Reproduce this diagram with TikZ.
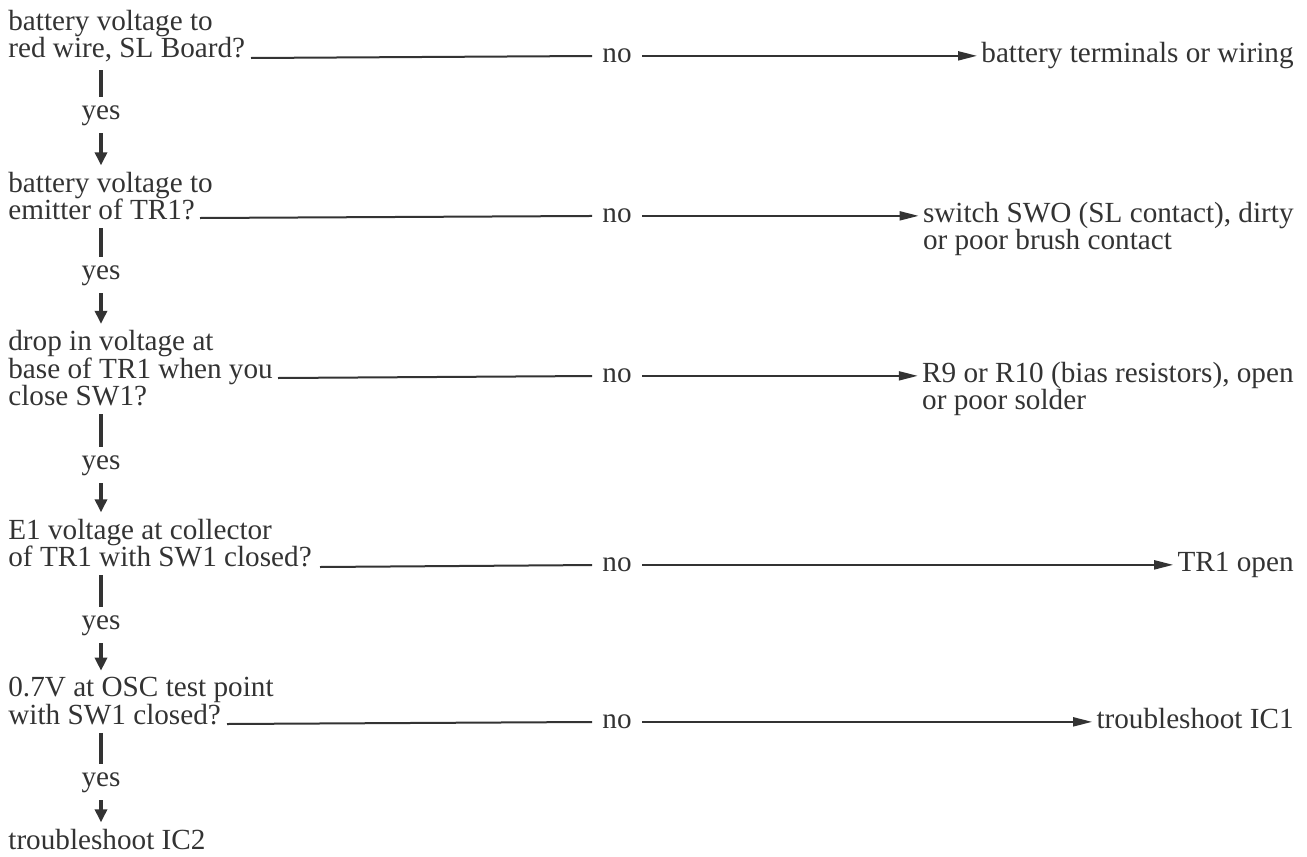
\documentclass[tikz,border=0pt]{standalone}
\usepackage{fontspec}
\setmainfont{Liberation Serif}
\usetikzlibrary{arrows.meta}
\definecolor{ink}{gray}{0.2}
\tikzset{txt/.style={inner sep=0pt,text=ink,font=\fontsize{14.6}{13.75}\selectfont}}
\tikzset{qtext/.style={txt,align=left}}
\tikzset{nolab/.style={txt,anchor=mid,inner xsep=5pt}}
\tikzset{yeslab/.style={txt,anchor=mid}}
\tikzset{ruleline/.style={draw=ink,line width=1pt}}
\tikzset{noarr/.style={draw=ink,line width=1pt,-{Triangle[length=9.5pt,width=4.5pt]},shorten >=2pt}}
\tikzset{yesbar/.style={draw=ink,line width=1.6pt,shorten <=4pt,shorten >=4pt}}
\tikzset{yesarr/.style={draw=ink,line width=1.6pt,-{Triangle[length=6.5pt,width=6pt]},shorten <=3.5pt,shorten >=3pt}}

\begin{document}
\begin{tikzpicture}[x=0.5pt,y=-0.5pt]
  \useasboundingbox (0,0) rectangle (1307,857);
  % questions (base = last line)
  \node[qtext,anchor=base west] (q1) at (8,57.5) {battery voltage to\\red wire, SL Board?};
  \node[qtext,anchor=base west] (q2) at (8,219.5) {battery voltage to\\emitter of TR1?};
  \node[qtext,anchor=base west] (q3) at (8,405.5) {drop in voltage at\\base of TR1 when you\\close SW1?};
  \node[qtext,anchor=base west] (q4) at (8,566.5) {E1 voltage at collector\\of TR1 with SW1 closed?};
  \node[qtext,anchor=base west] (q5) at (8,724) {0.7V at OSC test point\\with SW1 closed?};
  \node[qtext,anchor=base west] (q6) at (8,849) {troubleshoot IC2};
  % yes labels
  \node[yeslab] (y1) at (101,115) {yes};
  \node[yeslab] (y2) at (101,275) {yes};
  \node[yeslab] (y3) at (101,465) {yes};
  \node[yeslab] (y4) at (101,625) {yes};
  \node[yeslab] (y5) at (101,782) {yes};
  % no labels
  \node[nolab] (n1) at (617,58) {no};
  \node[nolab] (n2) at (617,218) {no};
  \node[nolab] (n3) at (617,378) {no};
  \node[nolab] (n4) at (617,567) {no};
  \node[nolab] (n5) at (617,724) {no};
  % answers (base = last line)
  \node[qtext,anchor=base east] (a1) at (1294,62) {battery terminals or wiring};
  \node[qtext,anchor=base east] (a2) at (1294,249.5) {switch SWO (SL contact), dirty\\or poor brush contact};
  \node[qtext,anchor=base east] (a3) at (1294,409.5) {R9 or R10 (bias resistors), open\\or poor solder};
  \node[qtext,anchor=base east] (a4) at (1294,571) {TR1 open};
  \node[qtext,anchor=base east] (a5) at (1294,728) {troubleshoot IC1};
  % rule starts
  \coordinate (q1r) at (251,58);
  \coordinate (q2r) at (200,218);
  \coordinate (q3r) at (278,378);
  \coordinate (q4r) at (320,567);
  \coordinate (q5r) at (227,724);
  % yes branches
  \draw[yesbar] (q1.south -| y1) -- (y1.north);
  \draw[yesarr] (y1.south) -- (q2.north -| y1);
  \draw[yesbar] (q2.south -| y2) -- (y2.north);
  \draw[yesarr] (y2.south) -- (q3.north -| y2);
  \draw[yesbar] (q3.south -| y3) -- (y3.north);
  \draw[yesarr] (y3.south) -- (q4.north -| y3);
  \draw[yesbar] (q4.south -| y4) -- (y4.north);
  \draw[yesarr] (y4.south) -- (q5.north -| y4);
  \draw[yesbar] (q5.south -| y5) -- (y5.north);
  \draw[yesarr] (y5.south) -- (q6.north -| y5);
  % no branches
  \draw[ruleline] (q1r) -- (n1);
  \draw[noarr] (n1) -- (a1.west |- n1);
  \draw[ruleline] (q2r) -- (n2);
  \draw[noarr] (n2) -- (a2.west |- n2);
  \draw[ruleline] (q3r) -- (n3);
  \draw[noarr] (n3) -- (a3.west |- n3);
  \draw[ruleline] (q4r) -- (n4);
  \draw[noarr] (n4) -- (a4.west |- n4);
  \draw[ruleline] (q5r) -- (n5);
  \draw[noarr] (n5) -- (a5.west |- n5);
\end{tikzpicture}
\end{document}
